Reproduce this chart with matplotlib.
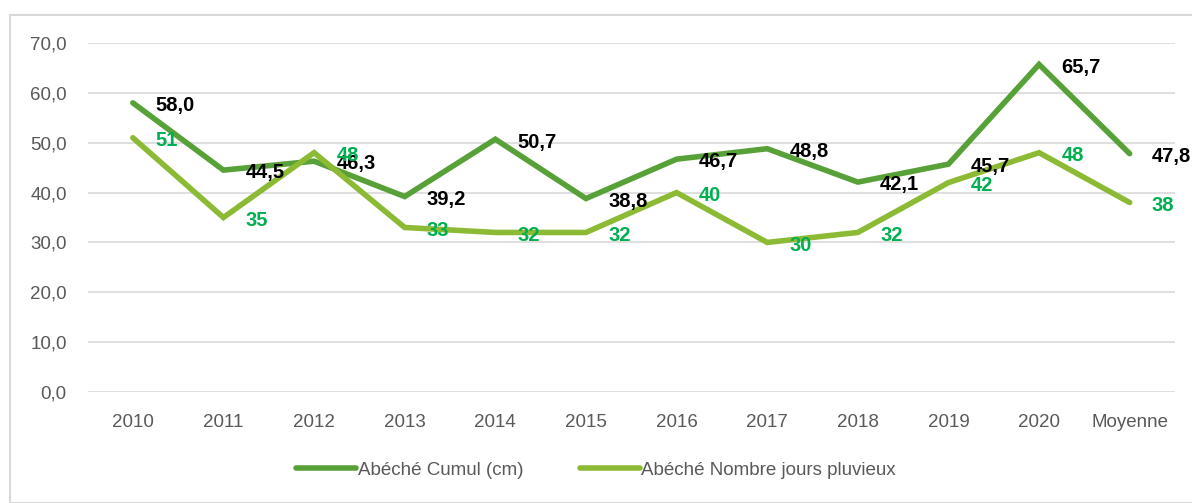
import matplotlib
matplotlib.use("Agg")
import matplotlib.pyplot as plt
from matplotlib.patches import Rectangle
from matplotlib import font_manager

CATEGORIES = ["2010", "2011", "2012", "2013", "2014", "2015", "2016",
              "2017", "2018", "2019", "2020", "Moyenne"]
CUMUL = [58.0, 44.5, 46.3, 39.2, 50.7, 38.8, 46.7, 48.8, 42.1, 45.7, 65.7, 47.8]
JOURS = [51, 35, 48, 33, 32, 32, 40, 30, 32, 42, 48, 38]
Y_TICKS = [0, 10, 20, 30, 40, 50, 60, 70]

names = {f.name for f in font_manager.fontManager.ttflist}
family = ["Liberation Sans Narrow", "Liberation Sans", "DejaVu Sans"]
family = [f for f in family if f in names] or ["DejaVu Sans"]
plt.rcParams["font.family"] = family

DARK = "#58A038"
LIGHT = "#8DBA35"
LABEL_GREEN = "#00B050"
GRAY = "#595959"

fig = plt.figure(figsize=(11.92, 5.03), dpi=100)
fig.patches.append(Rectangle((10 / 1192, 0), 1.2, 1 - 15 / 503, transform=fig.transFigure,
                             fill=False, edgecolor="#D9D9D9", linewidth=1.5))
ax = fig.add_axes([87.5 / 1192, 1 - 392 / 503, (1175 - 87.5) / 1192, (392 - 43) / 503])

x = list(range(len(CATEGORIES)))
ax.plot(x, CUMUL, color=DARK, linewidth=4, solid_capstyle="round",
        solid_joinstyle="miter", label="Abéché Cumul (cm)", zorder=3)
ax.plot(x, JOURS, color=LIGHT, linewidth=4, solid_capstyle="round",
        solid_joinstyle="miter", label="Abéché Nombre jours pluvieux", zorder=3)

# data labels to the right of each point
for xi, v in zip(x, CUMUL):
    ax.annotate(f"{v:.1f}".replace(".", ","), (xi, v), xytext=(16, -2),
                textcoords="offset points", ha="left", va="center",
                fontsize=14.5, fontweight="bold", color="black", zorder=4)
for xi, v in zip(x, JOURS):
    ax.annotate(f"{v}", (xi, v), xytext=(16, -2),
                textcoords="offset points", ha="left", va="center",
                fontsize=14.5, fontweight="bold", color=LABEL_GREEN, zorder=4)

ax.set_xlim(-0.5, len(CATEGORIES) - 0.5)
ax.set_ylim(0, 70)
ax.set_yticks(Y_TICKS)
ax.set_yticklabels([f"{t:.1f}".replace(".", ",") for t in Y_TICKS])
ax.set_xticks(x)
ax.set_xticklabels(CATEGORIES)
ax.tick_params(axis="both", length=0, labelsize=13.5, colors=GRAY)
ax.tick_params(axis="y", pad=15)
ax.tick_params(axis="x", pad=16)
ax.grid(axis="y", color="#D9D9D9", linewidth=1.2)
ax.set_axisbelow(True)
for s in ax.spines.values():
    s.set_visible(False)

leg = fig.legend(loc="center", bbox_to_anchor=(0.5, 1 - 470 / 503), ncol=2, frameon=False,
                 fontsize=13.5, handlelength=3.2, handletextpad=0.1, columnspacing=3)
for t in leg.get_texts():
    t.set_color(GRAY)

fig.savefig("out.png", dpi=100)
